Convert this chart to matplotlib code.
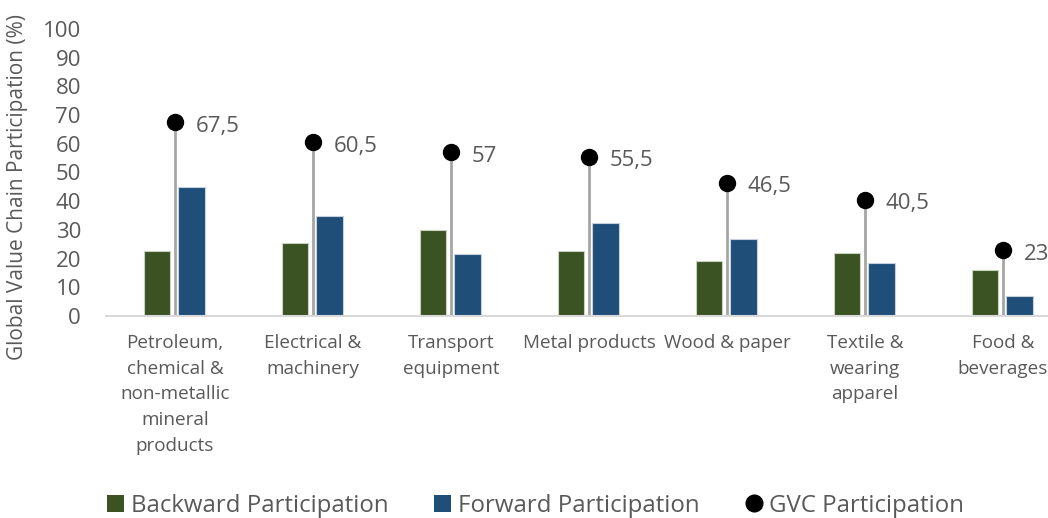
import matplotlib.pyplot as plt
import numpy as np
from matplotlib.patches import Patch
from matplotlib.lines import Line2D

plt.rcParams['font.family'] = ['Open Sans', 'DejaVu Sans']

sectors = [
    "Petroleum,\nchemical &\nnon-metallic\nmineral\nproducts",
    "Electrical &\nmachinery",
    "Transport\nequipment",
    "Metal products",
    "Wood & paper",
    "Textile &\nwearing\napparel",
    "Food &\nbeverages",
]
backward = [22.5, 25.5, 30, 22.5, 19, 22, 16]
forward = [45, 35, 21.5, 32.5, 27, 18.5, 7]
gvc = [67.5, 60.5, 57, 55.5, 46.5, 40.5, 23]
gvc_labels = ["67,5", "60,5", "57", "55,5", "46,5", "40,5", "23"]

green = '#3b5323'
blue = '#1f4e79'
text_grey = '#595959'

fig = plt.figure(figsize=(10.48, 5.18), dpi=100)
# axes runs past the right edge of the figure, so the last group is cut off
ax = fig.add_axes([106 / 1048, 1 - 316 / 518, 966 / 1048, 287 / 518])

x = np.arange(len(sectors))
w = 0.19
ax.bar(x - 0.13, backward, w, color=green, edgecolor='#c9d1c0', linewidth=0.8, zorder=2)
ax.bar(x + 0.12, forward, w, color=blue, edgecolor='#c6d0dc', linewidth=0.8, zorder=2)

# GVC stems and dots
ax.vlines(x, 0, gvc, color='#a6a6a6', linewidth=2, zorder=1)
ax.plot(x, gvc, 'o', color='black', markersize=11.5, zorder=3)
for xi, v, lab in zip(x, gvc, gvc_labels):
    ax.annotate(lab, (xi, v), xytext=(15, -3), textcoords='offset points',
                ha='left', va='center', fontsize=16, color=text_grey)

ax.set_xlim(-0.5, len(sectors) - 0.5)
ax.set_ylim(0, 100)
ax.set_yticks(range(0, 101, 10))
ax.set_xticks(x)
ax.set_xticklabels(sectors, fontsize=13.6, color=text_grey, va='top', linespacing=1.55)
ax.tick_params(axis='y', length=0, labelsize=16, labelcolor=text_grey, pad=18)
ax.tick_params(axis='x', length=0, pad=13)
for side in ['top', 'right', 'left']:
    ax.spines[side].set_visible(False)
ax.spines['bottom'].set_color('#d9d9d9')
ax.spines['bottom'].set_linewidth(1.5)

fig.text(18 / 1048, 1 - 187 / 518, "Global Value Chain Participation (%)", rotation=90,
         ha='center', va='center', fontsize=15, color=text_grey)

handles = [
    Patch(facecolor=green, label='Backward Participation'),
    Patch(facecolor=blue, label='Forward Participation'),
    Line2D([], [], marker='o', color='black', linestyle='none', markersize=12,
           label='GVC Participation'),
]
leg = fig.legend(handles=handles, loc='center', bbox_to_anchor=(0.511, 0.024), ncol=3,
                 frameon=False, fontsize=17.3, handlelength=0.7, handleheight=0.7,
                 handletextpad=0.3, columnspacing=1.9)
for t in leg.get_texts():
    t.set_color(text_grey)

fig.savefig('out.png', dpi=100)
